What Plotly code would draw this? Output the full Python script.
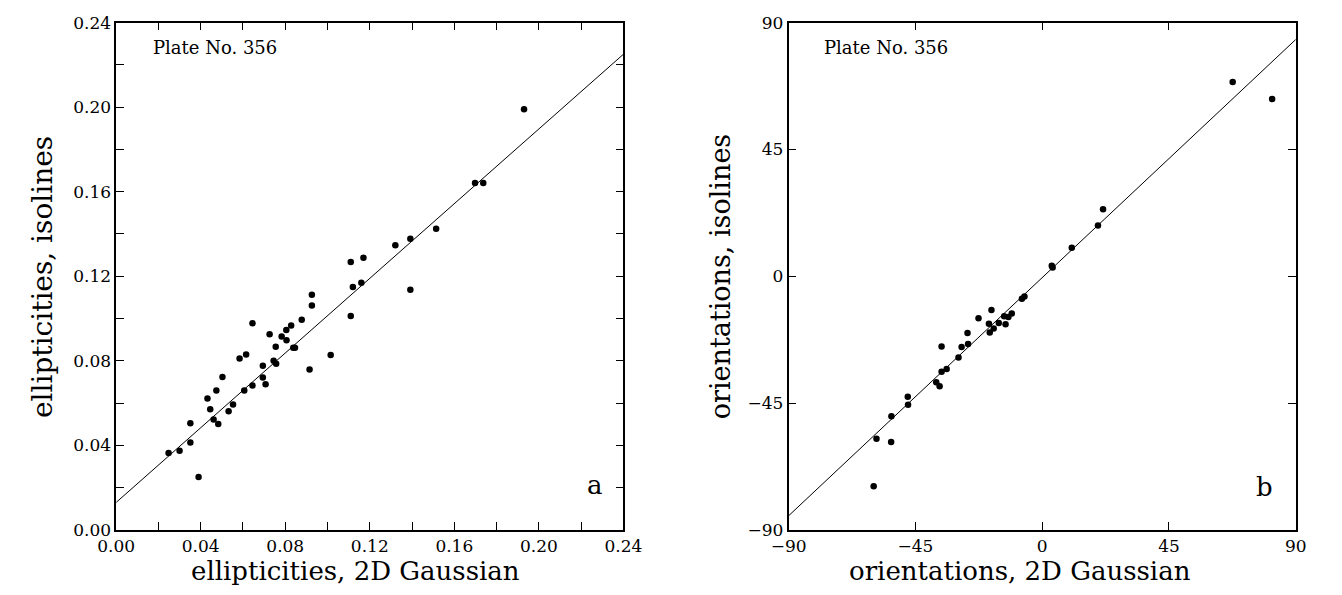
import plotly.graph_objects as go

W, H = 1342, 595

# ---- panel a data: ellipticities ----
ell_gauss = [0.0248, 0.030, 0.0351, 0.0351, 0.0432, 0.0445, 0.0461, 0.0483, 0.0474, 0.0503,
             0.0532, 0.0553, 0.0584, 0.0615, 0.0606, 0.0645, 0.0645, 0.0694, 0.0694, 0.0707,
             0.0726, 0.0755, 0.0745, 0.0757, 0.0783, 0.0805, 0.0806, 0.0828, 0.0838, 0.0846,
             0.0878, 0.0926, 0.0926, 0.0915, 0.1015, 0.111, 0.112, 0.116, 0.039, 0.111,
             0.117, 0.1392, 0.1321, 0.1392, 0.1514, 0.1698, 0.1737, 0.193]
ell_iso = [0.0364, 0.0375, 0.0413, 0.0504, 0.0622, 0.0571, 0.0522, 0.0501, 0.066, 0.0723,
           0.0561, 0.0593, 0.0811, 0.083, 0.066, 0.0683, 0.0978, 0.0777, 0.0721, 0.0689,
           0.0926, 0.0867, 0.080, 0.0786, 0.0915, 0.0946, 0.0897, 0.0967, 0.0862, 0.0862,
           0.0994, 0.1112, 0.1062, 0.0759, 0.0827, 0.1012, 0.1149, 0.1169, 0.0250, 0.1267,
           0.1288, 0.1136, 0.1347, 0.1377, 0.1425, 0.1641, 0.1641, 0.199]
fit_a_x = [0.0, 0.24]
fit_a_y = [0.013, 0.225]

# ---- panel b data: orientations ----
ori_gauss = [-59.8, -58.8, -53.6, -53.5, -47.7, -47.6, -37.6, -36.4, -35.7, -33.9,
             -35.7, -29.7, -28.6, -26.3, -26.5, -22.6, -18.9, -18.6, -15.4, -18.0,
             -17.2, -13.5, -12.0, -10.8, -13.0, -7.2, -6.3, 3.4, 3.7, 10.5,
             19.8, 21.6, 67.6, 81.6]
ori_iso = [-74.5, -57.7, -58.8, -49.7, -42.8, -45.6, -37.6, -39.0, -33.9, -32.9,
           -24.9, -28.8, -25.1, -24.0, -20.1, -14.9, -16.9, -20.0, -16.6, -12.0,
           -18.5, -14.2, -14.5, -13.2, -17.0, -8.0, -7.2, 3.7, 3.1, 10.1,
           18.0, 23.8, 68.9, 62.9]
fit_b_x = [-90, 90]
fit_b_y = [-85, 84]

ell_ticks = [0.00, 0.04, 0.08, 0.12, 0.16, 0.20, 0.24]
ori_ticks = [-90, -45, 0, 45, 90]

FONT = "DejaVu Serif"


def px_x(p):
    return p / W


def px_y(p):
    return 1 - p / H


fig = go.Figure()

fig.add_trace(go.Scatter(x=fit_a_x, y=fit_a_y, mode="lines",
                         line=dict(color="black", width=1), xaxis="x", yaxis="y",
                         showlegend=False, hoverinfo="skip"))
fig.add_trace(go.Scatter(x=ell_gauss, y=ell_iso, mode="markers",
                         marker=dict(color="black", size=6.5), xaxis="x", yaxis="y",
                         showlegend=False))
fig.add_trace(go.Scatter(x=fit_b_x, y=fit_b_y, mode="lines",
                         line=dict(color="black", width=1), xaxis="x2", yaxis="y2",
                         showlegend=False, hoverinfo="skip"))
fig.add_trace(go.Scatter(x=ori_gauss, y=ori_iso, mode="markers",
                         marker=dict(color="black", size=6.5), xaxis="x2", yaxis="y2",
                         showlegend=False))

ydom = [px_y(538), px_y(13)]
axis_common = dict(showline=True, linecolor="black", linewidth=1.5, mirror="ticks",
                   ticks="inside", ticklen=8, tickcolor="black", tickwidth=1,
                   showgrid=False, zeroline=False,
                   tickfont=dict(family=FONT, size=17, color="black"))

fig.update_layout(
    width=W, height=H,
    margin=dict(l=0, r=0, t=0, b=0),
    paper_bgcolor="white", plot_bgcolor="white",
    xaxis=dict(domain=[px_x(100), px_x(622)], range=[0, 0.24], tickvals=ell_ticks,
               tickformat=".2f", anchor="y",
               minor=dict(dtick=0.02, ticks="inside", ticklen=8, tickcolor="black"),
               **axis_common),
    yaxis=dict(domain=ydom, range=[0, 0.24], tickvals=ell_ticks, tickformat=".2f",
               anchor="x",
               minor=dict(dtick=0.02, ticks="inside", ticklen=8, tickcolor="black"),
               **axis_common),
    xaxis2=dict(domain=[px_x(792), px_x(1314)], range=[-90, 90], tickvals=ori_ticks,
                anchor="y2", **axis_common),
    yaxis2=dict(domain=ydom, range=[-90, 90], tickvals=ori_ticks, anchor="x2",
                **axis_common),
)


def note(text, x, y, size, angle=0, xanchor="center"):
    return dict(text=text, x=px_x(x), y=px_y(y), xref="paper", yref="paper",
                xanchor=xanchor, yanchor="middle", showarrow=False, textangle=angle,
                font=dict(family=FONT, size=size, color="black"))


ann = [
    note("ellipticities, 2D Gaussian", 346, 581, 26),
    note("ellipticities, isolines", 24, 276, 28, angle=-90),
    note("orientations, 2D Gaussian", 1030, 581, 26),
    note("orientations, isolines", 722, 276, 27, angle=-90),
    note("Plate No. 356", 136, 39, 18, xanchor="left"),
    note("Plate No. 356", 826, 39, 18, xanchor="left"),
    note("a", 593, 492, 26),
    note("b", 1282, 494, 26),
]
fig.update_layout(annotations=ann)

fig.write_html("out.html")
